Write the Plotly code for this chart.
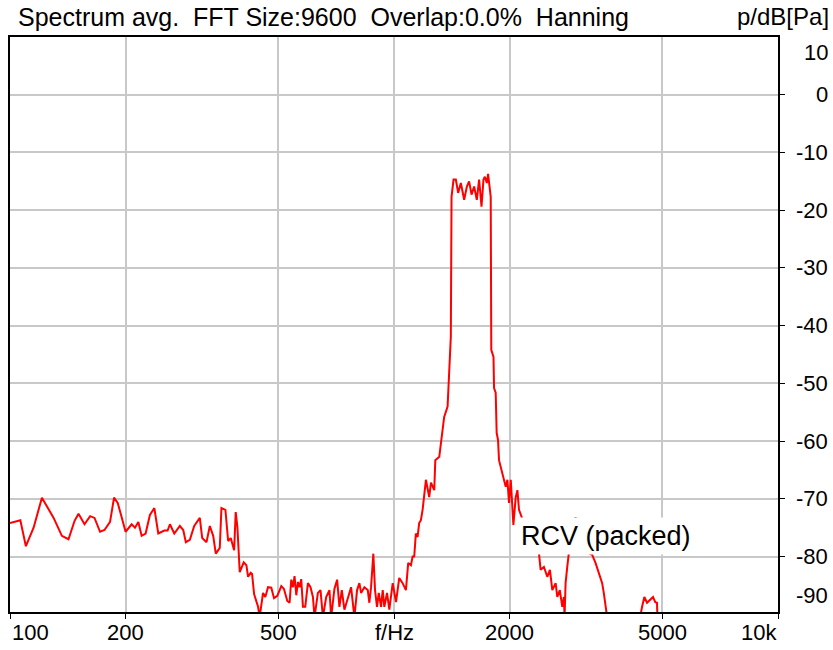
import plotly.graph_objects as go
import math

freq_hz = [100, 106.4, 110, 115.2, 121.1, 129.9, 136.5, 142, 147.3, 150.8, 156.3, 161.7, 166, 171.6, 176.2, 182.2, 186.6, 190.8,
           200, 207.4, 211.6, 215.9, 220.2, 225.5, 231.4, 237.6, 243.3, 252.2, 257.3, 260.9, 267.8, 276.9, 282.6, 287, 294,
           301.8, 312.1, 316.6, 324.9, 331.4, 338.2, 343.5, 351.8, 355.3, 363.9, 369.9, 375.7, 383.4, 387.1, 391, 396.5,
           406.1, 412.7, 416.9, 423.5, 427, 432.2, 442.6, 446.8, 456, 462.3, 469.8, 479.2, 487, 496.7, 508.8, 517, 527.4,
           534.7, 540.1, 545.7, 550.8, 556.6, 562.2, 567.5, 573.3, 579.3, 587.3, 596.8, 606.2, 615, 620.9, 633.6, 643.6,
           652.9, 665.9, 679, 686, 699.6, 711, 720.9, 731.3, 742.8, 758, 773.1, 788.6, 801.4, 812.6, 820.8, 837.2, 854.4,
           862.6, 871.5, 883.5, 892.5, 903.2, 912.6, 925.2, 934.6, 943.6, 959, 972.3, 992.2, 1012, 1032, 1053, 1074, 1089,
           1107, 1118, 1129, 1140, 1152, 1163, 1175, 1187, 1211, 1235, 1248, 1273, 1281, 1312, 1325, 1351, 1379, 1392, 1400,
           1406, 1412, 1429, 1449, 1469, 1493, 1523, 1548, 1569, 1592, 1617, 1643, 1666, 1690, 1710, 1724, 1745, 1758, 1776,
           1786, 1792, 1816, 1822, 1840, 1851, 1866, 1877, 1896, 1927, 1954, 1974, 1993, 2014, 2034, 2046, 2075, 2096, 2116,
           2202, 2269, 2385, 2409, 2457, 2507, 2547, 2584, 2636, 2662, 2703, 2743, 2769, 2781, 2798, 2826, 2853, 2917, 2970,
           3024, 3116, 3216, 3282, 3348, 3394, 3435, 3484, 3518, 3553, 3590, 3888, 4253, 4426, 4487, 4560, 4651, 4726, 4791,
           4840, 4878, 6000, 10000]

level_db = [-74.2, -73.7, -78.2, -75, -69.8, -73.3, -76.4, -77, -73.8, -72.6, -74.4, -73, -73.3, -75.7, -75.4, -74, -69.8, -70.7,
            -75.7, -74.4, -75, -74, -76.4, -76, -72.8, -71.6, -76, -75.5, -75.5, -74.4, -76, -74.7, -75.4, -77.5, -77.1,
            -74.7, -73.3, -76.8, -77.5, -74.7, -76.4, -79.5, -78.5, -71.6, -71.9, -77.3, -76.8, -78.9, -72.3, -74.9, -82.7,
            -81, -81.5, -83.5, -82.8, -83, -86.5, -88.7, -90.5, -86.3, -87, -85.3, -85.4, -87.2, -86.8, -85.1, -85.6, -87.7,
            -88, -84, -85.3, -83.4, -86.7, -84.4, -85.3, -83.9, -88.7, -88.7, -84.6, -85.3, -87, -90.5, -86.3, -85.8,
            -90.5, -87, -85.8, -90.5, -85.6, -84, -88.7, -85.8, -89.2, -87, -85.3, -90.5, -85.8, -84.6, -86.3, -85.3, -85.8,
            -88, -85.3, -79.5, -85.8, -88.7, -86.3, -88.7, -85.8, -88.7, -86.3, -89.2, -84.6, -87.9, -83.7, -84.6, -85.8, -81.1,
            -81.5, -80, -80, -76, -76.6, -74.2, -73.7, -71.9, -66.7, -69.7, -67.2, -68.5, -63.3, -62.7, -60.3, -55.8, -54, -48.9, -44.2,
            -41.9, -17.7, -14.7, -14.7, -17, -15.3, -18.2, -15.9, -15, -17.3, -15.9, -18.2, -14.7, -19.4, -14.7, -14.2, -15.3, -13.7, -15.9,
            -17.7, -44.2, -45.4, -50.8, -51.6, -58.6, -59.8, -63.3, -64.5, -66.2, -67.9, -66.7, -70.7, -66.7, -70.7, -74.5, -69.7, -68.5, -71.9,
            -75, -79.4, -79.4, -82.3, -81.8, -83.5, -82.3, -85.8, -84.6, -87, -85.8, -88.7, -87, -90.5, -84.6, -81.8, -79.4, -75.5, -73.2,
            -75, -77.5, -79.4, -79.7, -81.1, -82.3, -83.7, -84.6, -86.3, -88, -90.5, -95, -95, -88.7, -87, -88, -87.5, -87, -87.9,
            -88, -95, -95, -95]

x_grid = [100, 200, 500, 1000, 2000, 5000, 10000]
x_labels = ["100", "200", "500", "f/Hz", "2000", "5000", "10k"]
y_ticks = [0, -10, -20, -30, -40, -50, -60, -70, -80]
y_labels_extra = [("10", 7.3), ("-90", -86.8)]

Y_MIN, Y_MAX = -89.6, 10.0
L, R, T, B = 8, 55, 37, 38
W, H = 833, 650
pw = W - L - R
ph = H - T - B

fig = go.Figure()
fig.add_trace(go.Scatter(x=freq_hz, y=level_db, mode="lines",
                         line=dict(color="#ff0000", width=2), showlegend=False, hoverinfo="skip"))

lab_font = dict(family="Liberation Sans, Arial, sans-serif", size=22, color="black")
ann = []
# title
ann.append(dict(text="Spectrum avg.  FFT Size:9600  Overlap:0.0%  Hanning", xref="paper", yref="paper",
                x=(14 - L) / pw, y=1 + (T - 17) / ph, xanchor="left", yanchor="middle", showarrow=False,
                font=dict(family="Liberation Sans Narrow, Arial Narrow, Liberation Sans, sans-serif", size=25, color="black")))
ann.append(dict(text="p/dB[Pa]", xref="paper", yref="paper",
                x=(831 - L) / pw, y=1 + (T - 17) / ph, xanchor="right", yanchor="middle", showarrow=False,
                font=dict(family="Liberation Sans Narrow, Arial Narrow, Liberation Sans, sans-serif", size=24, color="black")))
# y labels
for v in y_ticks:
    ann.append(dict(text=str(v), xref="paper", yref="y", x=(830 - L) / pw, y=v, xanchor="right",
                    yanchor="middle", showarrow=False, font=lab_font))
for t, v in y_labels_extra:
    ann.append(dict(text=t, xref="paper", yref="y", x=(830 - L) / pw, y=v, xanchor="right",
                    yanchor="middle", showarrow=False, font=lab_font))
# x labels
ylab = -(632 - (T + ph)) / ph
for f, t in zip(x_grid, x_labels):
    if f == 100:
        ann.append(dict(text=t, xref="paper", yref="paper", x=(8 - L) / pw, y=ylab, xanchor="left",
                        yanchor="middle", showarrow=False, font=lab_font))
    elif f == 10000:
        ann.append(dict(text=t, xref="paper", yref="paper", x=(779 - L) / pw, y=ylab, xanchor="right",
                        yanchor="middle", showarrow=False, font=lab_font))
    else:
        ann.append(dict(text=t, xref="x", yref="paper", x=math.log10(f), y=ylab, xanchor="center",
                        yanchor="middle", showarrow=False, font=lab_font))
# curve label
ann.append(dict(text="RCV (packed)", xref="x", yref="y", x=math.log10(3573), y=-76.4, xanchor="center",
                yanchor="middle", showarrow=False, bgcolor="white", borderpad=3,
                font=dict(family="Liberation Sans, Arial, sans-serif", size=27, color="black")))

fig.update_layout(
    width=W, height=H, margin=dict(l=L, r=R, t=T, b=B),
    paper_bgcolor="white", plot_bgcolor="white",
    annotations=ann,
    xaxis=dict(type="log", range=[2, 4], tickvals=x_grid, showticklabels=False,
               showgrid=True, gridcolor="#c8c8c8", gridwidth=2, zeroline=False,
               showline=True, linecolor="black", linewidth=2, mirror=True,
               ticks="outside", ticklen=5, tickcolor="black", tickwidth=1),
    yaxis=dict(range=[Y_MIN, Y_MAX], side="right", tickvals=y_ticks, showticklabels=False,
               showgrid=True, gridcolor="#c8c8c8", gridwidth=2, zeroline=False,
               showline=True, linecolor="black", linewidth=2, mirror=True,
               ticks="outside", ticklen=5, tickcolor="black", tickwidth=1),
)
fig.write_html("out.html", config={"displayModeBar": False},
               post_script="document.body.style.margin='0';document.body.style.padding='0';")
